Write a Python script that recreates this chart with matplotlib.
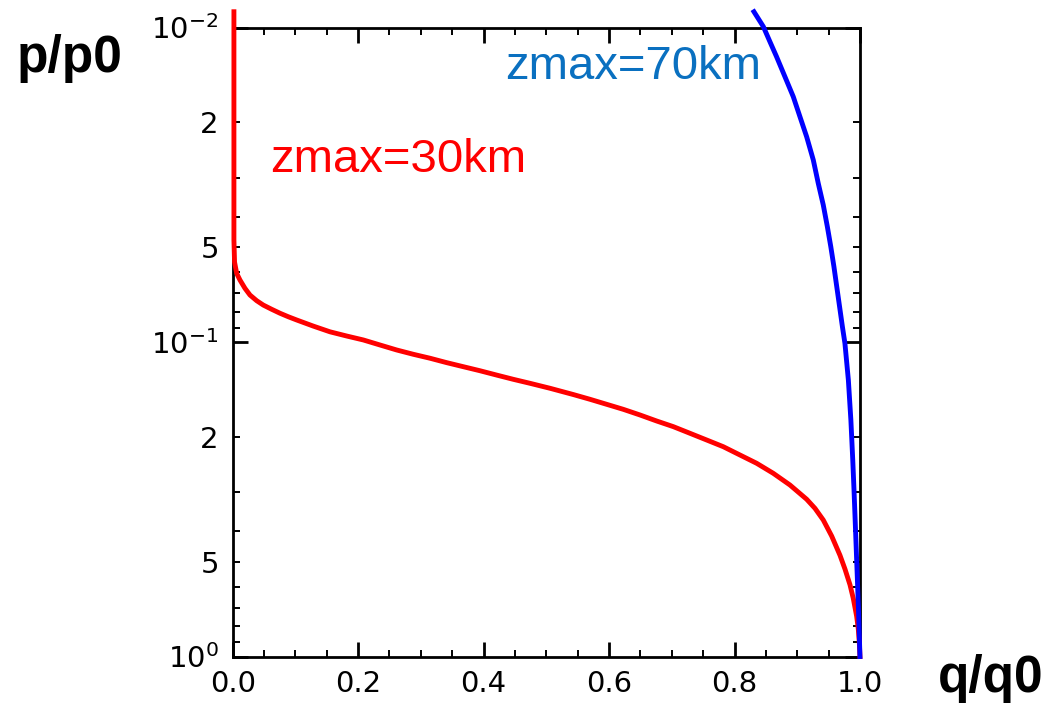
import matplotlib.pyplot as plt
import numpy as np
from matplotlib.ticker import MultipleLocator, LogLocator, FuncFormatter

# q/q0 against p/p0 for two model tops
q_30km = [0.002, 0.002, 0.003, 0.0064, 0.0116, 0.0196, 0.0276, 0.0383, 0.0488, 0.0622,
          0.0754, 0.0886, 0.102, 0.1285, 0.1551, 0.1817, 0.2082, 0.2348, 0.2614, 0.2879,
          0.3145, 0.3411, 0.3676, 0.3942, 0.4209, 0.4473, 0.474, 0.5058, 0.543, 0.5696,
          0.5962, 0.6227, 0.6493, 0.6759, 0.7024, 0.729, 0.7556, 0.7821, 0.8087, 0.8353,
          0.8618, 0.8884, 0.915, 0.9283, 0.9415, 0.9549, 0.9681, 0.9761, 0.9841, 0.9893,
          0.9947, 0.9973, 0.9989, 1.0]
p_30km = [0.00891, 0.0474, 0.0557, 0.0605, 0.0635, 0.0675, 0.0709, 0.0739, 0.0763, 0.0787,
          0.0810, 0.0831, 0.0851, 0.0890, 0.0928, 0.0957, 0.0985, 0.1022, 0.1060, 0.1094,
          0.1126, 0.1163, 0.1198, 0.1234, 0.1274, 0.1314, 0.1353, 0.1403, 0.1469, 0.1521,
          0.1578, 0.1637, 0.1706, 0.1783, 0.1858, 0.1951, 0.2049, 0.2152, 0.2287, 0.2430,
          0.2615, 0.2849, 0.3162, 0.3380, 0.3681, 0.4140, 0.4764, 0.5272, 0.5916, 0.6531,
          0.7447, 0.8166, 0.9016, 1.0]

q_70km = [0.831, 0.846, 0.8565, 0.867, 0.8804, 0.8937, 0.9043, 0.915, 0.9256, 0.9335,
          0.9415, 0.948, 0.9535, 0.9585, 0.963, 0.9675, 0.972, 0.976, 0.9815, 0.9855,
          0.9885, 0.9905, 0.9925, 0.9955, 0.9975, 1.0]
p_70km = [0.00891, 0.00994, 0.0111, 0.01238, 0.01434, 0.0166, 0.01921, 0.02225, 0.02638, 0.03129,
          0.03667, 0.04298, 0.04977, 0.05763, 0.06672, 0.07722, 0.08939, 0.1009, 0.1321, 0.1770,
          0.2372, 0.2955, 0.3762, 0.5426, 0.6946, 1.0]

plt.rcParams['font.family'] = ['DejaVu Sans']

fig = plt.figure(figsize=(10.49, 7.07), dpi=100)
ax = fig.add_axes([0.2218, 0.0714, 0.598, 0.8897])

ax.plot(q_30km, p_30km, color='#ff0000', lw=3.5, clip_on=False, zorder=3)
ax.plot(q_70km, p_70km, color='#0000ff', lw=3.5, clip_on=False, zorder=4)

ax.set_yscale('log')
ax.set_xlim(0, 1)
ax.set_ylim(1, 0.01)

ax.xaxis.set_major_locator(MultipleLocator(0.2))
ax.xaxis.set_minor_locator(MultipleLocator(0.05))
ax.xaxis.set_major_formatter(FuncFormatter(lambda v, pos: '%.1f' % v))

ax.yaxis.set_major_locator(LogLocator(base=10))
ax.yaxis.set_minor_locator(LogLocator(base=10, subs=np.arange(2, 10)))


def major_fmt(v, pos):
    return r'$\mathregular{10^{%d}}$' % int(round(np.log10(v)))


def minor_fmt(v, pos):
    m = int(round(v / 10 ** np.floor(np.log10(v) + 1e-9)))
    return str(m) if m in (2, 5) else ''


ax.yaxis.set_major_formatter(FuncFormatter(major_fmt))
ax.yaxis.set_minor_formatter(FuncFormatter(minor_fmt))

for s in ax.spines.values():
    s.set_linewidth(2.0)

ax.tick_params(which='both', direction='in', top=True, right=True, colors='black')
ax.tick_params(which='major', length=11, width=2.0, labelsize=21, pad=10)
ax.tick_params(which='minor', length=5, width=1.4, labelsize=21, pad=10)

fig.text(0.0162, 0.8982, 'p/p0', fontsize=37, fontweight='bold',
         family='Liberation Sans', va='baseline')
fig.text(0.894, 0.021, 'q/q0', fontsize=37, fontweight='bold',
         family='Liberation Sans', va='baseline')
fig.text(0.4814, 0.8883, 'zmax=70km', fontsize=34, color='#0a70c0',
         family='Liberation Sans', va='baseline')
fig.text(0.2574, 0.7567, 'zmax=30km', fontsize=34, color='#ff0000',
         family='Liberation Sans', va='baseline')

fig.savefig('out.png', dpi=100)
